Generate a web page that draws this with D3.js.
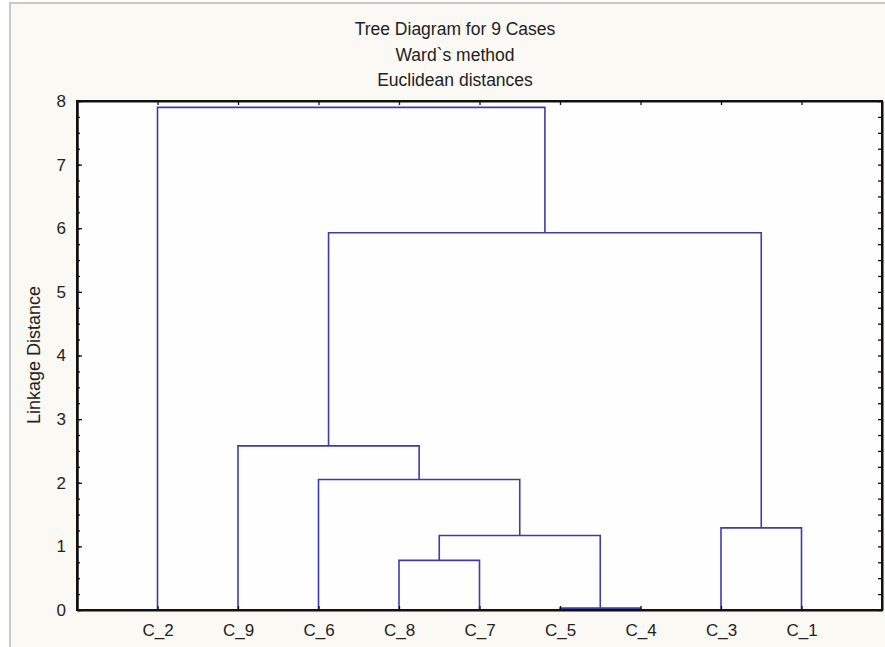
<!DOCTYPE html>
<html>
<head>
<meta charset="utf-8">
<script src="https://cdn.jsdelivr.net/npm/d3@7"></script>
<style>
  body { margin: 0; background: #fff; }
  svg text { font-family: "Liberation Sans", Arial, sans-serif; fill: #222; }
</style>
</head>
<body>
<svg width="885" height="647"></svg>
<script>
// leaf order along the x axis
var leaves = ["C_2", "C_9", "C_6", "C_8", "C_7", "C_5", "C_4", "C_3", "C_1"];

// merge steps: child A, child B (leaf name or "M"+index), linkage distance
var mergeA = ["C_5", "C_8", "M1", "C_6", "C_9", "C_3", "M4", "C_2"];
var mergeB = ["C_4", "C_7", "M0", "M2", "M3", "C_1", "M5", "M6"];
var mergeHeight = [0.03, 0.78, 1.17, 2.05, 2.58, 1.29, 5.93, 7.9];

var yTicks = [0, 1, 2, 3, 4, 5, 6, 7, 8];
var titleLines = ["Tree Diagram for 9 Cases", "Ward`s method", "Euclidean distances"];

var svg = d3.select("svg"),
    margin = {top: 101, right: 3, bottom: 37, left: 77},
    width = 885 - margin.left - margin.right,
    height = 647 - margin.top - margin.bottom;

// outer panel
svg.append("rect")
    .attr("x", 10).attr("y", 3)
    .attr("width", 885).attr("height", 660)
    .attr("fill", "#faf9f4")
    .attr("stroke", "#c8c8c8")
    .attr("stroke-width", 2);

var g = svg.append("g").attr("transform", "translate(" + margin.left + "," + margin.top + ")");

var x = d3.scalePoint()
    .domain(leaves)
    .range([0, width])
    .padding(1);

var y = d3.scaleLinear()
    .domain([0, 8])
    .range([height, 0]);

g.append("rect")
    .attr("width", width).attr("height", height)
    .attr("fill", "#fefeff");

// node positions
var nodes = {};
leaves.forEach(function(d) { nodes[d] = {x: x(d), h: 0}; });

var links = [];
for (var i = 0; i < mergeA.length; i++) {
    var a = nodes[mergeA[i]], b = nodes[mergeB[i]], h = mergeHeight[i];
    links.push({a: a, b: b, h: h});
    nodes["M" + i] = {x: (a.x + b.x) / 2, h: h};
}

g.selectAll(".link")
    .data(links)
    .enter().append("path")
    .attr("class", "link")
    .attr("fill", "none")
    .attr("stroke", "#3d3da6")
    .attr("stroke-width", 1.6)
    .attr("d", function(d) {
        return "M" + d.a.x + "," + y(d.a.h) +
               "V" + y(d.h) +
               "H" + d.b.x +
               "V" + y(d.b.h);
    });

// minor ticks every 0.25
var minor = d3.range(0, 8.01, 0.25);

var yAxis = d3.axisLeft(y).tickValues(yTicks).tickSizeInner(-5).tickSizeOuter(0).tickPadding(11);
var yAxisR = d3.axisRight(y).tickValues(minor).tickSizeInner(-4).tickSizeOuter(0).tickFormat("");
var yMinor = d3.axisLeft(y).tickValues(minor).tickSizeInner(-3).tickSizeOuter(0).tickFormat("");
var xAxis = d3.axisBottom(x).tickSizeInner(-4).tickSizeOuter(0).tickPadding(14);
var xAxisTop = d3.axisTop(x).tickSizeInner(-4).tickSizeOuter(0).tickFormat("");

g.append("g").call(yMinor);
g.append("g").attr("class", "ylab").call(yAxis);
g.append("g").attr("transform", "translate(" + width + ",0)").call(yAxisR);
g.append("g").attr("class", "xlab").attr("transform", "translate(0," + height + ")").call(xAxis);
g.append("g").call(xAxisTop);

g.selectAll(".domain").attr("stroke", "#111").attr("stroke-width", 2);
g.selectAll(".tick line").attr("stroke", "#111").attr("stroke-width", 1.3);
g.selectAll(".ylab text").style("font-size", "17px").attr("fill", "#222");
g.selectAll(".xlab text").style("font-size", "17px").attr("fill", "#222");

// frame
g.append("rect")
    .attr("width", width).attr("height", height)
    .attr("fill", "none")
    .attr("stroke", "#111")
    .attr("stroke-width", 2);

// titles
svg.selectAll(".title")
    .data(titleLines)
    .enter().append("text")
    .attr("class", "title")
    .attr("x", 455)
    .attr("y", function(d, i) { return 35 + i * 25.5; })
    .attr("text-anchor", "middle")
    .style("font-size", "17.5px")
    .text(function(d) { return d; });

svg.append("text")
    .attr("transform", "translate(40," + 355 + ") rotate(-90)")
    .attr("text-anchor", "middle")
    .style("font-size", "18px")
    .text("Linkage Distance");
</script>
</body>
</html>
